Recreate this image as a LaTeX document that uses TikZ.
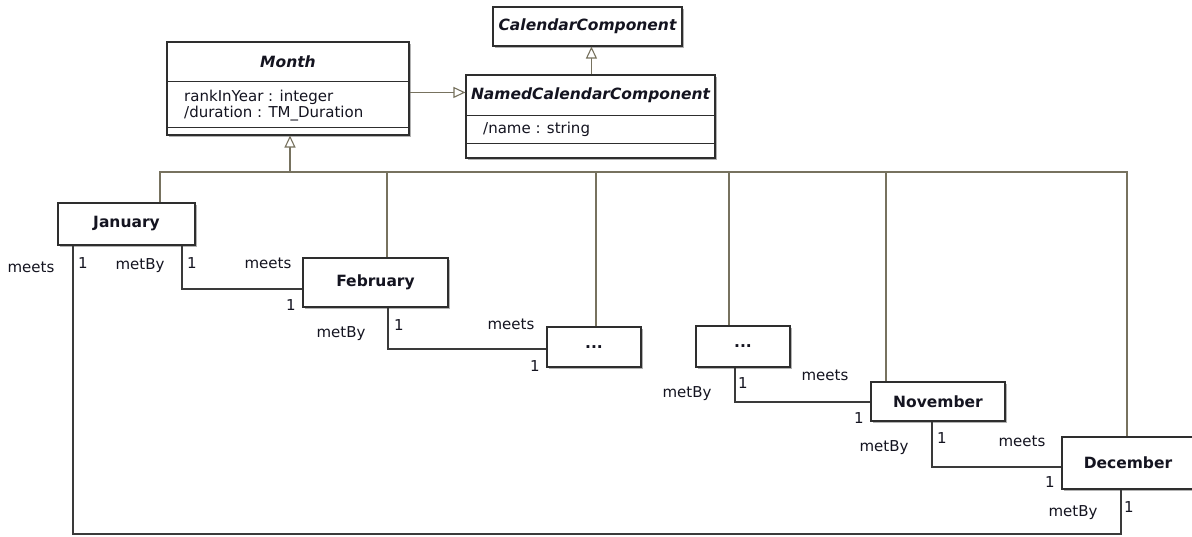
\documentclass[tikz,border=0pt]{standalone}
\usepackage{fontspec}
\setmainfont{DejaVu Sans}
\usetikzlibrary{arrows.meta,shadows,calc}

\definecolor{boxline}{HTML}{2E2E2E}
\definecolor{genline}{HTML}{77725F}
\definecolor{assocline}{HTML}{3A3A3A}
\definecolor{inktext}{HTML}{141420}

\tikzset{
  umlbox/.style={draw=boxline, line width=1.1pt, fill=white, inner sep=0pt,
    text=inktext, font=\fontsize{15.5}{18}\selectfont\bfseries,
    drop shadow={shadow xshift=1.6pt, shadow yshift=-1.6pt, fill=black!30, opacity=1}},
  compartment/.style={draw=boxline, line width=1.1pt},
  gen/.style={draw=genline, line width=1.1pt},
  genhead/.style={gen, -{Triangle[open, length=12pt, width=11pt, fill=white]}},
  assoc/.style={draw=assocline, line width=1.1pt},
  lbl/.style={inner sep=0pt, text=inktext, font=\fontsize{15}{18}\selectfont},
  title/.style={inner sep=0pt, text=inktext, font=\fontsize{15.5}{18}\selectfont\bfseries\itshape},
}

\begin{document}
\begin{tikzpicture}[x=1pt, y=-1pt]
\useasboundingbox[fill=white] (0,0) rectangle (1192,536);

% ---- abstract classes ----
\node[umlbox, minimum width=189pt, minimum height=39pt] (cal) at (587.5,26.5) {};
\node[title] (calT) at (cal.center) {CalendarComponent};

\node[umlbox, minimum width=249pt, minimum height=83pt] (named) at (590.5,116.5) {};
\node[title] (namedT) at (590.5,95) {NamedCalendarComponent};
\draw[compartment] ($(named.north west)+(0,41)$) -- ($(named.north east)+(0,41)$);
\draw[compartment] ($(named.north west)+(0,69)$) -- ($(named.north east)+(0,69)$);
\node[lbl, anchor=west] (namedA) at (483,129) {/name : string};

\node[umlbox, minimum width=242pt, minimum height=93pt] (month) at (288,88.5) {};
\node[title] (monthT) at (288,62) {Month};
\draw[compartment] ($(month.north west)+(0,40)$) -- ($(month.north east)+(0,40)$);
\draw[compartment] ($(month.north west)+(0,86)$) -- ($(month.north east)+(0,86)$);
\node[lbl, anchor=west] (monthA1) at (184,97) {rankInYear : integer};
\node[lbl, anchor=west] (monthA2) at (184,114) {/duration : TM\_Duration};

% ---- concrete months ----
\node[umlbox, minimum width=137pt, minimum height=42pt] (jan) at (126.5,224) {January};
\node[umlbox, minimum width=145pt, minimum height=49pt] (feb) at (375.5,282.5) {February};
\node[umlbox, minimum width=94pt, minimum height=40pt] (dotsA) at (594,347) {...};
\node[umlbox, minimum width=94pt, minimum height=41pt] (dotsB) at (743,346.5) {...};
\node[umlbox, minimum width=134pt, minimum height=39pt] (nov) at (938,401.5) {November};
\node[umlbox, minimum width=132pt, minimum height=52pt] (dec) at (1128,463) {December};

% ---- generalizations ----
\coordinate (nTop) at ($(named.north west)+(126,0)$);
\draw[genhead] (nTop) -- (nTop |- cal.south);
\coordinate (mArrow) at ($(month.north east)+(0,51)$);
\draw[genhead] (mArrow) -- (mArrow -| named.west);

\coordinate (busM) at (290,172);
\coordinate (busJan) at (160,172);
\coordinate (busFeb) at (387,172);
\coordinate (busDotsA) at (596,172);
\coordinate (busDotsB) at (729,172);
\coordinate (busNov) at (886,172);
\coordinate (busDec) at (1127,172);
\draw[genhead] (busM) -- (busM |- month.south);
\draw[gen] (busJan |- jan.north) -- (busJan) -- (busDec) -- (busDec |- dec.north);
\draw[gen] (busFeb) -- (busFeb |- feb.north);
\draw[gen] (busDotsA) -- (busDotsA |- dotsA.north);
\draw[gen] (busDotsB) -- (busDotsB |- dotsB.north);
\draw[gen] (busNov) -- (busNov |- nov.north);

% ---- meets / metBy associations ----
\coordinate (jfTurn) at (182,289);
\draw[assoc] (jfTurn |- jan.south) -- (jfTurn) -- (jfTurn -| feb.west);
\coordinate (faTurn) at (388,349);
\draw[assoc] (faTurn |- feb.south) -- (faTurn) -- (faTurn -| dotsA.west);
\coordinate (bnTurn) at (735,402);
\draw[assoc] (bnTurn |- dotsB.south) -- (bnTurn) -- (bnTurn -| nov.west);
\coordinate (ndTurn) at (932,467);
\draw[assoc] (ndTurn |- nov.south) -- (ndTurn) -- (ndTurn -| dec.west);
\coordinate (djLeft) at (73,534);
\coordinate (djRight) at (1121,534);
\draw[assoc] (djLeft |- jan.south) -- (djLeft) -- (djRight) -- (djRight |- dec.south);

% ---- role names and multiplicities ----
\node[lbl] (r1) at (31,267) {meets};
\node[lbl] (m1) at (83,263) {1};
\node[lbl] (r2) at (140,266) {metBy};
\node[lbl] (m2) at (192,263) {1};
\node[lbl] (r3) at (268,263) {meets};
\node[lbl] (m3) at (291,305) {1};
\node[lbl] (m4) at (399,325) {1};
\node[lbl] (r4) at (341,334) {metBy};
\node[lbl] (r5) at (511,324) {meets};
\node[lbl] (m5) at (535,366) {1};
\node[lbl] (m6) at (743,383) {1};
\node[lbl] (r6) at (687,394) {metBy};
\node[lbl] (r7) at (825,375) {meets};
\node[lbl] (m7) at (859,418) {1};
\node[lbl] (m8) at (942,438) {1};
\node[lbl] (r8) at (884,448) {metBy};
\node[lbl] (r9) at (1022,441) {meets};
\node[lbl] (m9) at (1050,482) {1};
\node[lbl] (m10) at (1129,507) {1};
\node[lbl] (r10) at (1073,513) {metBy};
\end{tikzpicture}
\end{document}
